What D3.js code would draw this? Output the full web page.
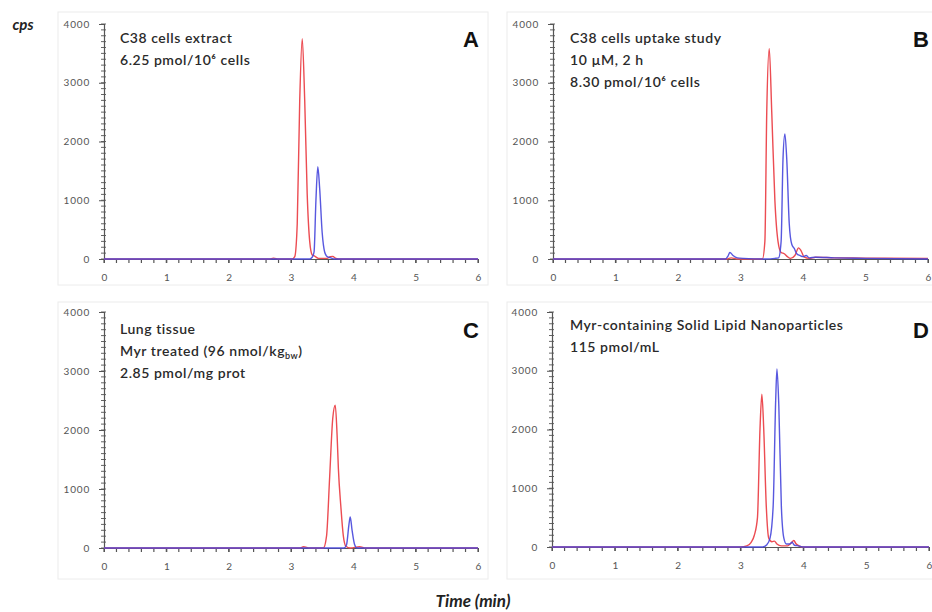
<!DOCTYPE html>
<html><head><meta charset="utf-8">
<script src="https://cdn.jsdelivr.net/npm/d3@7"></script>
<style>body{margin:0;background:#fff;} svg{display:block;}</style>
</head><body>
<svg id="chart" width="932" height="612"></svg>
<script>
// ---------- DATA ----------
const panelKeys = ["A", "B", "C", "D"];
const xTickValues = [0, 1, 2, 3, 4, 5, 6];
const yTickValues = [0, 1000, 2000, 3000, 4000];
const xDomain = [0, 6];
const yDomain = [0, 4000];

const annotA = ["C38 cells extract", "6.25 pmol/10⁶ cells"];
const annotB = ["C38 cells uptake study", "10 µM, 2 h", "8.30 pmol/10⁶ cells"];
const annotC = ["Lung tissue", "Myr treated (96 nmol/kg|bw|)", "2.85 pmol/mg prot"];
const annotD = ["Myr-containing Solid Lipid Nanoparticles", "115 pmol/mL"];

// [time (min), cps]
const redA = [[0,0],[2.65,0],[2.72,15],[2.8,0],[3.02,0],[3.06,40],[3.1,600],[3.14,2700],[3.18,3750],[3.22,2700],[3.26,1100],[3.3,300],[3.34,70],[3.38,50],[3.44,10],[3.58,10],[3.63,40],[3.67,45],[3.72,10],[3.8,0],[6,0]];
const blueA = [[0,0],[3.3,0],[3.34,30],[3.37,120],[3.4,1000],[3.43,1570],[3.46,1200],[3.5,450],[3.54,120],[3.58,40],[3.64,20],[3.7,0],[6,0]];

const redB = [[0,0],[2.78,0],[2.85,20],[2.95,0],[3.35,0],[3.39,300],[3.42,2500],[3.46,3580],[3.5,2500],[3.55,1000],[3.6,300],[3.65,110],[3.7,90],[3.75,40],[3.8,10],[3.87,60],[3.93,190],[3.97,140],[4.02,30],[4.1,10],[4.2,30],[4.5,20],[5,15],[6,10]];
const blueB = [[0,0],[2.76,0],[2.8,50],[2.83,110],[2.88,60],[2.95,20],[3.05,10],[3.4,0],[3.55,10],[3.61,20],[3.65,300],[3.68,1700],[3.71,2130],[3.74,1700],[3.78,600],[3.82,250],[3.86,180],[3.9,90],[3.95,60],[4.0,40],[4.05,60],[4.1,20],[4.2,30],[4.5,20],[5,10],[6,0]];

const redC = [[0,0],[3.15,0],[3.2,20],[3.3,0],[3.52,0],[3.57,200],[3.62,1200],[3.67,2200],[3.71,2420],[3.74,1900],[3.76,1350],[3.8,700],[3.84,200],[3.88,30],[3.95,0],[4.1,20],[4.2,0],[6,0]];
const blueC = [[0,0],[3.85,0],[3.89,50],[3.93,400],[3.95,525],[3.98,300],[4.02,60],[4.06,0],[6,0]];

const redD = [[0,0],[3.0,0],[3.1,20],[3.17,80],[3.22,200],[3.27,500],[3.31,2000],[3.34,2600],[3.37,2000],[3.41,700],[3.45,150],[3.5,90],[3.54,100],[3.58,50],[3.65,20],[3.75,20],[3.8,60],[3.85,110],[3.88,60],[3.93,20],[4.0,0],[6,0]];
const blueD = [[0,0],[3.35,0],[3.42,40],[3.47,150],[3.52,700],[3.56,2500],[3.58,3030],[3.61,2400],[3.65,700],[3.69,150],[3.73,50],[3.78,50],[3.82,80],[3.86,30],[3.92,20],[4.0,0],[6,0]];

const redSeries = [redA, redB, redC, redD];
const blueSeries = [blueA, blueB, blueC, blueD];
const annotations = [annotA, annotB, annotC, annotD];

// ---------- LAYOUT ----------
const layout = [
  {frame:[58,12,430,273],  x:[104,478], y:[259,24],  text:[120,43],  letter:[471,39]},
  {frame:[507,12,430,273], x:[553,928], y:[259,24],  text:[570,43],  letter:[921,39]},
  {frame:[58,302,430,277], x:[104,478], y:[548,312], text:[120,334], letter:[471,330]},
  {frame:[507,302,430,277],x:[552,929], y:[547,312], text:[570,330], letter:[921,330]}
];
const RED = "#ec4c52", BLUE = "#4646dc";
const annFont = "Lato, 'Open Sans', sans-serif";

const svg = d3.select("#chart");

panelKeys.forEach((key, i) => {
  const L = layout[i];
  const g = svg.append("g");
  g.append("rect").attr("x", L.frame[0]).attr("y", L.frame[1])
    .attr("width", L.frame[2]).attr("height", L.frame[3])
    .attr("fill", "none").attr("stroke", "#ececec").attr("stroke-width", 1);

  const x = d3.scaleLinear().domain(xDomain).range(L.x);
  const y = d3.scaleLinear().domain(yDomain).range(L.y);

  // minor y ticks (cross the axis)
  const yMinor = d3.range(0, 4001, 100);
  g.append("g").selectAll("line").data(yMinor).join("line")
    .attr("x1", L.x[0] - 3).attr("x2", L.x[0] + 2)
    .attr("y1", d => y(d)).attr("y2", d => y(d))
    .attr("stroke", "#666").attr("stroke-width", 1);

  const yAxis = g.append("g").attr("transform", `translate(${L.x[0]},0)`)
    .call(d3.axisLeft(y).tickValues(yTickValues).tickSize(5).tickPadding(9).tickFormat(d3.format("d")));
  yAxis.select(".domain").attr("stroke", "#555").attr("stroke-width", 1.2);
  yAxis.selectAll(".tick line").attr("stroke", "#555");
  yAxis.selectAll("text").attr("fill", "#555").style("font-family", annFont)
    .style("font-size", "10px").style("letter-spacing", "0.8px");

  // minor x ticks (below)
  const xMinor = d3.range(0, 6.01, 0.2);
  g.append("g").selectAll("line").data(xMinor).join("line")
    .attr("x1", d => x(d)).attr("x2", d => x(d))
    .attr("y1", L.y[0]).attr("y2", L.y[0] + 4)
    .attr("stroke", "#555").attr("stroke-width", 1.2);

  const xAxis = g.append("g").attr("transform", `translate(0,${L.y[0]})`)
    .call(d3.axisBottom(x).tickValues(xTickValues).tickSize(4).tickPadding(11).tickFormat(d3.format("d")));
  xAxis.select(".domain").attr("stroke", "#555");
  xAxis.selectAll(".tick line").attr("stroke", "#555");
  xAxis.selectAll("text").attr("fill", "#555").style("font-family", annFont).style("font-size", "10px");

  const line = d3.line().x(d => x(d[0])).y(d => y(d[1])).curve(d3.curveMonotoneX);
  g.append("path").datum(redSeries[i]).attr("d", line)
    .attr("fill", "none").attr("stroke", RED).attr("stroke-width", 1.4).attr("stroke-linejoin", "round");
  g.append("path").datum(blueSeries[i]).attr("d", line)
    .attr("fill", "none").attr("stroke", BLUE).attr("stroke-width", 1.4).attr("stroke-linejoin", "round").attr("opacity", 0.9);

  // annotation text
  annotations[i].forEach((txt, j) => {
    const t = g.append("text").attr("x", L.text[0]).attr("y", L.text[1] + j * 22)
      .attr("fill", "#2a2a2a").style("font-family", annFont).style("font-size", "14px")
      .style("letter-spacing", "0.55px").style("font-weight", "600");
    const parts = txt.split("|");
    parts.forEach((p, k) => {
      if (!p) return;
      const ts = t.append("tspan").text(p);
      if (k === 1) ts.style("font-size", "9px").attr("dy", 3);
      if (k === 2) ts.attr("dy", -3);
    });
  });

  g.append("text").attr("x", L.letter[0]).attr("y", L.letter[1])
    .attr("text-anchor", "middle").attr("dominant-baseline", "central")
    .style("font-family", "'Liberation Sans', Arial, sans-serif").style("font-weight", "bold")
    .style("font-size", "22px").attr("fill", "#111").text(key);
});

svg.append("text").attr("x", 23).attr("y", 30).attr("text-anchor", "middle")
  .style("font-family", annFont).style("font-weight", "bold").style("font-style", "italic")
  .style("font-size", "15px").attr("fill", "#222").text("cps");

svg.append("text").attr("x", 473).attr("y", 607).attr("text-anchor", "middle")
  .style("font-family", annFont).style("font-weight", "bold").style("font-style", "italic")
  .style("font-size", "17px").attr("fill", "#222").text("Time (min)");
</script>
</body></html>
